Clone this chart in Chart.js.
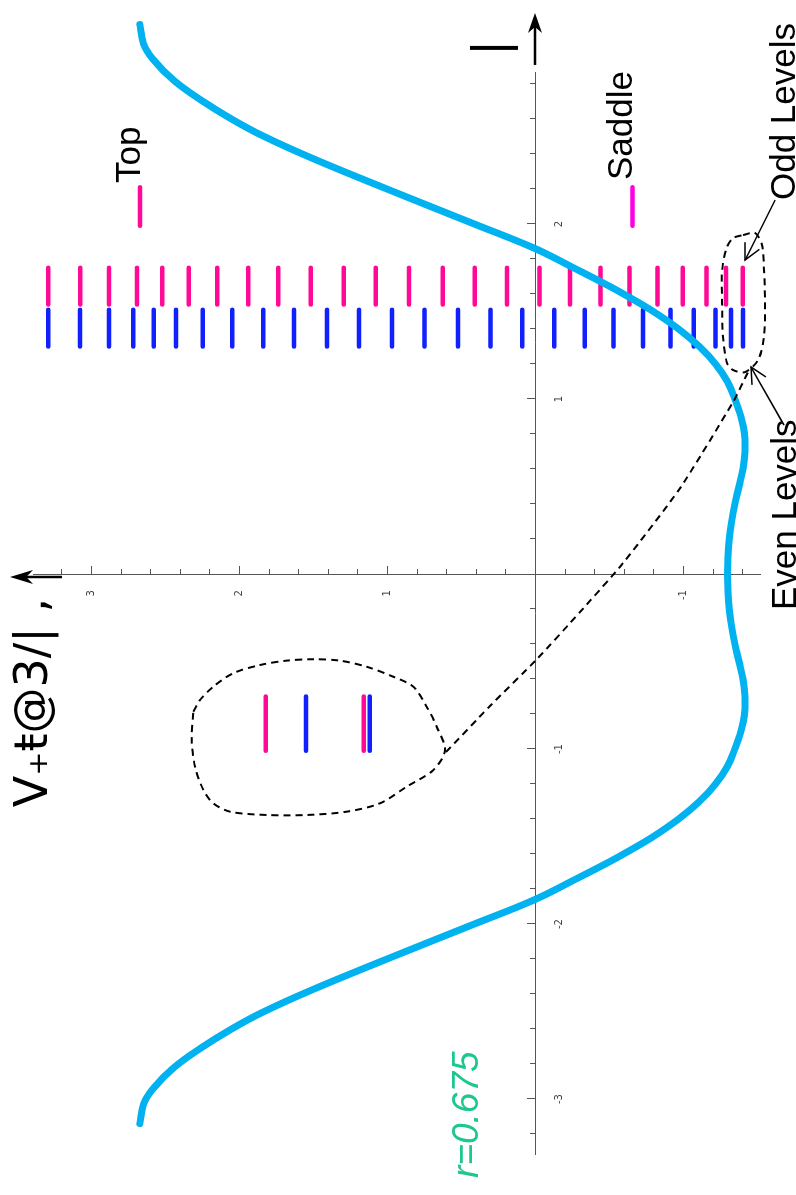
<!DOCTYPE html>
<html>
<head>
<meta charset="utf-8">
<script src="https://cdn.jsdelivr.net/npm/chart.js@4.4.1/dist/chart.umd.min.js"></script>
<style>
  html, body { margin: 0; padding: 0; background: #fff; overflow: hidden; }
  #wrap {
    position: absolute; left: 0; top: 0; width: 1195px; height: 796px;
    transform-origin: 0 0; transform: translate(0, 1195px) rotate(-90deg);
  }
</style>
</head>
<body>
<div id="wrap"><canvas id="chart" width="1195" height="796"></canvas></div>
<script>
// potential curve V(phi), listed from the top end down
const phi = [3.14, 3.03, 2.94, 2.82, 2.71, 2.6, 2.5, 2.37, 2.2, 2.0, 1.86, 1.75, 1.65, 1.58, 1.5, 1.4, 1.3, 1.2, 1.1,
  1.0, 0.9, 0.8, 0.7, 0.6, 0.5, 0.4, 0.3, 0.2, 0.1, 0,
  -0.1, -0.2, -0.3, -0.4, -0.5, -0.6, -0.7, -0.8, -0.9, -1.0, -1.1, -1.2, -1.3, -1.4, -1.5, -1.58, -1.65, -1.75,
  -1.86, -2.0, -2.2, -2.37, -2.5, -2.6, -2.71, -2.82, -2.94, -3.03, -3.14];
const potential = [2.67, 2.645, 2.58, 2.44, 2.26, 2.05, 1.83, 1.49, 1.0, 0.41, 0.0, -0.26, -0.49, -0.64, -0.80, -0.97, -1.11, -1.22, -1.30,
  -1.35, -1.39, -1.415, -1.418, -1.405, -1.378, -1.35, -1.328, -1.312, -1.303, -1.30,
  -1.303, -1.312, -1.328, -1.35, -1.378, -1.405, -1.418, -1.415, -1.39, -1.35, -1.30, -1.22, -1.11, -0.97, -0.80, -0.64, -0.49, -0.26,
  0.0, 0.41, 1.0, 1.49, 1.83, 2.05, 2.26, 2.44, 2.58, 2.645, 2.67];

// energy levels
const oddLevels = [3.289, 3.073, 2.878, 2.689, 2.518, 2.339, 2.147, 1.938, 1.735, 1.516, 1.293, 1.077, 0.851,
  0.624, 0.408, 0.189, -0.031, -0.237, -0.443, -0.638, -0.827, -0.998, -1.159, -1.290, -1.403];
const evenLevels = [3.289, 3.074, 2.878, 2.714, 2.576, 2.426, 2.245, 2.045, 1.836, 1.628, 1.405, 1.189, 0.966,
  0.747, 0.521, 0.301, 0.086, -0.130, -0.336, -0.531, -0.730, -0.915, -1.072, -1.220, -1.324, -1.405];
const oddSpan = [1.54, 1.75];
const evenSpan = [1.30, 1.51];
const topLevel = [2.669];
const saddleLevel = [-0.658];
const markerSpan = [1.99, 2.21];
const insetOdd = [1.820, 1.157];
const insetEven = [1.547, 1.117];
const insetSpan = [-1.01, -0.70];

// dashed call-outs
const loopPhi = [-0.787, -0.720, -0.644, -0.567, -0.520, -0.495, -0.487, -0.495, -0.530, -0.587, -0.644, -0.758,
  -0.873, -1.006, -1.120, -1.215, -1.310, -1.358, -1.377, -1.377, -1.358, -1.310, -1.234, -1.101, -0.949, -0.787];
const loopV = [2.309, 2.264, 2.174, 2.039, 1.858, 1.678, 1.498, 1.318, 1.137, 0.958, 0.822, 0.732,
  0.664, 0.608, 0.687, 0.867, 1.047, 1.272, 1.543, 1.813, 2.061, 2.174, 2.241, 2.297, 2.320, 2.309];
const linkPhi = [-1.017, -0.754, -0.480, -0.217, 0.063, 0.491, 0.983, 1.154];
const linkV = [0.601, 0.304, -0.020, -0.304, -0.595, -0.980, -1.338, -1.439];
const ringPhi = [1.937, 1.949, 1.880, 1.737, 1.549, 1.354, 1.223, 1.154, 1.166, 1.206, 1.354, 1.549, 1.737, 1.869, 1.920, 1.937];
const ringV = [-1.405, -1.486, -1.534, -1.547, -1.554, -1.547, -1.507, -1.419, -1.338, -1.297, -1.270, -1.264, -1.264, -1.297, -1.338, -1.405];

const pink = "#ff0a96";
const blue = "#1020ff";
const magenta = "#ff00e0";
const sans = "'Liberation Sans', Arial, sans-serif";

function zipPts(xs, ys) {
  return xs.map((x, i) => ({ x: x, y: ys[i] }));
}
function bars(levels, span) {
  const pts = [];
  levels.forEach((e) => {
    pts.push({ x: span[0], y: e }, { x: span[1], y: e }, { x: span[1], y: null });
  });
  return pts;
}
function levelSet(levels, span, color) {
  return {
    data: bars(levels, span), showLine: true, borderColor: color, borderWidth: 4.5,
    borderCapStyle: "round", pointRadius: 0, spanGaps: false, clip: false,
  };
}
function dashed(xs, ys, tension) {
  return {
    data: zipPts(xs, ys), showLine: true, borderColor: "#000", borderWidth: 2,
    borderDash: [7, 5], pointRadius: 0, tension: tension, clip: false,
  };
}

const notes = [
  { text: "Top", x: 2.234, y: 2.669, font: "35px " + sans, color: "#000", align: "left" },
  { text: "Saddle", x: 2.251, y: -0.655, font: "35px " + sans, color: "#000", align: "left" },
  { text: "Odd Levels", x: 2.137, y: -1.757, font: "35px " + sans, color: "#000", align: "left" },
  { text: "Even Levels", x: -0.206, y: -1.762, font: "35px " + sans, color: "#000", align: "left" },
  { text: "r=0.675", x: -3.451, y: 0.385, font: "italic 37px " + sans, color: "#1ec88c", align: "left" },
  { text: "V\u208a\u0167@3/| ,", x: -0.137, y: 3.297, font: "46px 'DejaVu Sans'", color: "#000", align: "right" },
  { text: "|", x: 3.006, y: 0.191, font: "48px 'DejaVu Sans'", color: "#000", align: "center" },
];
const pointers = [
  { from: [2.137, -1.622], to: [1.794, -1.419] },
  { from: [0.851, -1.682], to: [1.183, -1.459] },
];

function head(ctx, x0, y0, x1, y1, len, half, filled) {
  const a = Math.atan2(y1 - y0, x1 - x0);
  const bx = x1 - len * Math.cos(a), by = y1 - len * Math.sin(a);
  const px = -Math.sin(a) * half, py = Math.cos(a) * half;
  ctx.beginPath();
  if (filled) {
    const nx = x1 - len * 0.7 * Math.cos(a), ny = y1 - len * 0.7 * Math.sin(a);
    ctx.moveTo(x1, y1);
    ctx.lineTo(bx + px, by + py);
    ctx.lineTo(nx, ny);
    ctx.lineTo(bx - px, by - py);
    ctx.closePath();
    ctx.fill();
  } else {
    ctx.moveTo(bx + px, by + py);
    ctx.lineTo(x1, y1);
    ctx.lineTo(bx - px, by - py);
    ctx.stroke();
  }
}

const decor = {
  id: "decor",
  afterDraw(chart) {
    const { ctx, scales: { x, y } } = chart;
    const x0 = x.getPixelForValue(0);
    const y0 = y.getPixelForValue(0);
    ctx.save();
    ctx.strokeStyle = "#555";
    ctx.lineWidth = 1;
    x.ticks.forEach((t) => {
      const v = Math.round(t.value * 5) / 5;
      if (v === 0) return;
      const px = Math.round(x.getPixelForValue(v)) + 0.5;
      const len = Number.isInteger(v) ? 8 : 5;
      ctx.beginPath(); ctx.moveTo(px, y0); ctx.lineTo(px, y0 - len); ctx.stroke();
    });
    ctx.fillStyle = "#444";
    ctx.font = "10px 'DejaVu Sans'";
    ctx.textAlign = "right";
    ctx.textBaseline = "middle";
    y.ticks.forEach((t) => {
      const v = Math.round(t.value * 5) / 5;
      if (v === 0) return;
      const py = Math.round(y.getPixelForValue(v)) + 0.5;
      const len = Number.isInteger(v) ? 8 : 5;
      ctx.beginPath(); ctx.moveTo(x0, py); ctx.lineTo(x0 + len, py); ctx.stroke();
      if (Number.isInteger(v)) ctx.fillText(String(v), x0 - 16, py);
    });

    // axis arrows
    ctx.strokeStyle = "#000";
    ctx.fillStyle = "#000";
    ctx.lineWidth = 2.5;
    const ax0 = x.getPixelForValue(2.909), ax1 = x.getPixelForValue(3.206);
    ctx.beginPath(); ctx.moveTo(ax0, y0); ctx.lineTo(ax1 - 10, y0); ctx.stroke();
    head(ctx, ax0, y0, ax1, y0, 20, 7, true);
    const yx = x.getPixelForValue(-0.017);
    const ay0 = y.getPixelForValue(3.196), ay1 = y.getPixelForValue(3.547);
    ctx.beginPath(); ctx.moveTo(yx, ay0); ctx.lineTo(yx, ay1 + 10); ctx.stroke();
    head(ctx, yx, ay0, yx, ay1, 23, 7, true);

    // pointer arrows
    ctx.lineWidth = 1.5;
    pointers.forEach((p) => {
      const fx = x.getPixelForValue(p.from[0]), fy = y.getPixelForValue(p.from[1]);
      const tx = x.getPixelForValue(p.to[0]), ty = y.getPixelForValue(p.to[1]);
      ctx.beginPath(); ctx.moveTo(fx, fy); ctx.lineTo(tx, ty); ctx.stroke();
      head(ctx, fx, fy, tx, ty, 16, 8, false);
    });

    // text notes
    ctx.textBaseline = "alphabetic";
    notes.forEach((n) => {
      ctx.font = n.font;
      ctx.fillStyle = n.color;
      ctx.textAlign = n.align;
      ctx.fillText(n.text, x.getPixelForValue(n.x), y.getPixelForValue(n.y));
    });
    ctx.restore();
  },
};

const axisTicks = {
  stepSize: 0.2,
  autoSkip: false,
  includeBounds: false,
  maxRotation: 0,
  color: "#444",
  font: { family: "'DejaVu Sans'", size: 10 },
  callback: (v) => {
    const r = Math.round(v * 5) / 5;
    return Number.isInteger(r) && r !== 0 ? String(r) : "";
  },
};

new Chart(document.getElementById("chart"), {
  type: "scatter",
  data: {
    datasets: [
      dashed(loopPhi, loopV, 0.3),
      dashed(linkPhi, linkV, 0.2),
      dashed(ringPhi, ringV, 0.3),
      {
        data: zipPts(phi, potential), showLine: true, borderColor: "#00b2f0", borderWidth: 7,
        borderCapStyle: "round", borderJoinStyle: "round", pointRadius: 0, tension: 0.4, clip: false,
      },
      levelSet(oddLevels, oddSpan, pink),
      levelSet(evenLevels, evenSpan, blue),
      levelSet(topLevel, markerSpan, pink),
      levelSet(saddleLevel, markerSpan, magenta),
      levelSet(insetOdd, insetSpan, pink),
      levelSet(insetEven, insetSpan, blue),
    ],
  },
  options: {
    responsive: false,
    animation: false,
    layout: { padding: { left: 40, right: 73, top: 33, bottom: 36 } },
    plugins: { legend: { display: false }, tooltip: { enabled: false } },
    scales: {
      x: {
        type: "linear", min: -3.32, max: 2.863, position: { y: 0 },
        grid: { drawOnChartArea: false, drawTicks: false },
        border: { color: "#555", width: 1 },
        ticks: { ...axisTicks, padding: 18 },
      },
      y: {
        type: "linear", min: -1.52, max: 3.392, position: { x: 0 },
        grid: { drawOnChartArea: false, drawTicks: false },
        border: { color: "#555", width: 1 },
        ticks: { ...axisTicks, display: false },
      },
    },
  },
  plugins: [decor],
});
</script>
</body>
</html>
